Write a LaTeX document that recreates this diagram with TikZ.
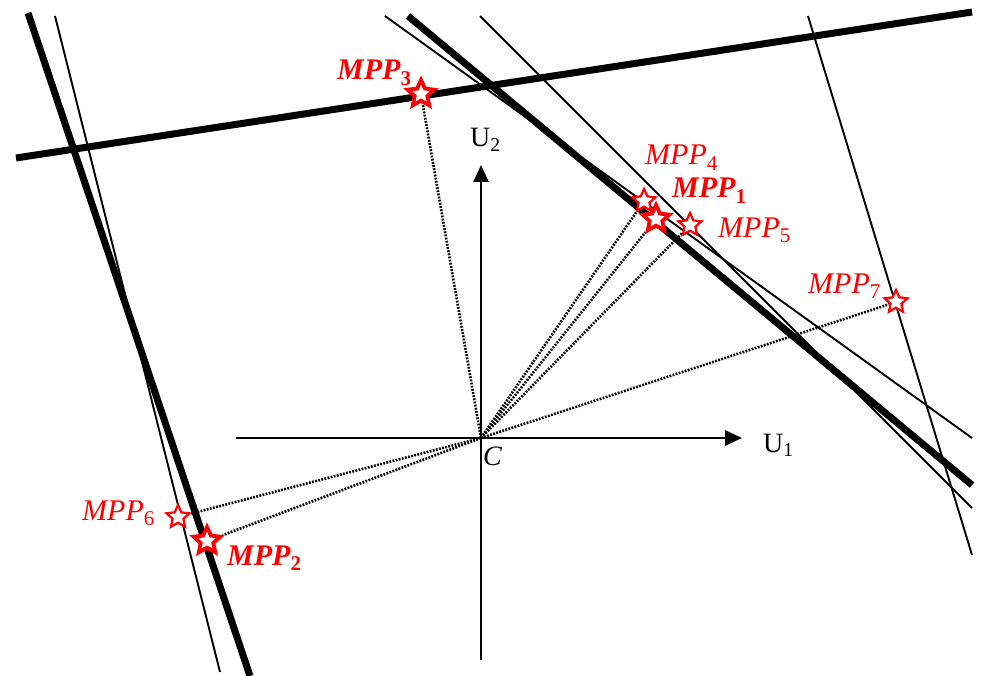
\documentclass[tikz,border=0pt]{standalone}
\usepackage{fontspec}
\setmainfont{Liberation Serif}
\usepackage{xcolor}
\usetikzlibrary{arrows.meta,shapes.geometric,backgrounds}
\definecolor{mppred}{HTML}{FF0000}
\newcommand{\idx}[1]{\textsubscript{\upshape #1}}

\begin{document}
\begin{tikzpicture}[
  x=1pt,y=-1pt,
  boundary/.style={line width=7pt},
  limit/.style={line width=1.9pt},
  axis/.style={line width=2.7pt,-{Triangle[length=17pt,width=15pt]}},
  ray/.style={line width=2.6pt,dash pattern=on 1.8pt off 1.4pt},
  mpp/.style={star,star points=5,star point ratio=2.1,draw=mppred,fill=white,
              line width=2.2pt,minimum size=24pt,inner sep=0pt},
  mainmpp/.style={mpp,line width=3.8pt,minimum size=28pt},
  lbl/.style={text=mppred,font=\fontsize{30}{30}\selectfont\itshape,
              inner sep=0pt,anchor=base west},
  mainlbl/.style={lbl,font=\fontsize{30}{30}\selectfont\bfseries\itshape},
  axlbl/.style={font=\fontsize{28}{28}\selectfont,inner sep=0pt,anchor=base west}
]
\useasboundingbox (0,0) rectangle (981,676);
\coordinate (c) at (481,438);
\coordinate (u1tail) at (236,438);
\coordinate (u1tip) at (742,438);
\coordinate (u2tail) at (481,660);
\coordinate (u2tip) at (481,165);
\node[mpp] (mpp4) at (644,201) {};
\node[mainmpp] (mpp1) at (656,219) {};
\node[mpp] (mpp5) at (690,225) {};
\node[mainmpp] (mpp2) at (207,541) {};
\node[mainmpp] (mpp3) at (421,94) {};
\node[mpp] (mpp6) at (178,517) {};
\node[mpp] (mpp7) at (896,302) {};
\node[mainlbl] (lbl3) at (337,80) {MPP\idx{3}};
\node[lbl] (lbl4) at (645,165) {MPP\idx{4}};
\node[mainlbl] (lbl1) at (672,198) {MPP\idx{1}};
\node[lbl] (lbl5) at (718,237) {MPP\idx{5}};
\node[lbl] (lbl6) at (82,520) {MPP\idx{6}};
\node[mainlbl] (lbl2) at (227,565) {MPP\idx{2}};
\node[lbl] (lbl7) at (808,293) {MPP\idx{7}};
\node[axlbl] (u1) at (763,452) {U\idx{1}};
\node[axlbl] (u2) at (470,147) {U\idx{2}};
\node[axlbl,font=\fontsize{28}{28}\selectfont\itshape] (clbl) at (483,465) {C};
\begin{scope}[on background layer]
  % limit state lines
  \draw[boundary] (28,13) -- (250,676);
  \draw[limit] (55,16) -- (220,672);
  \draw[boundary] (16,158) -- (972,12);
  \draw[boundary] (408,16) -- (972,485);
  \draw[limit] (385,16) -- (972,438);
  \draw[limit] (480,16) -- (972,508);
  \draw[limit] (808,16) -- (972,555);
  \draw[axis] (u1tail) -- (u1tip);
  \draw[axis] (u2tail) -- (u2tip);
  \foreach \m in {1,...,7}
    \draw[ray] (c) -- (mpp\m);
\end{scope}
\end{tikzpicture}
\end{document}
